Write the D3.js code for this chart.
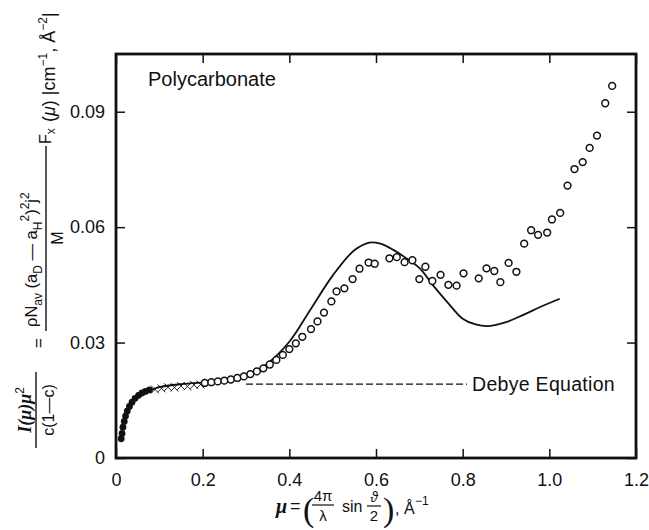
<!DOCTYPE html>
<html lang="en">
<head>
<meta charset="UTF-8">
<title>Polycarbonate</title>
<script src="https://d3js.org/d3.v7.min.js"></script>
<style>
  body, html { margin: 0; background: #fff; }
  svg text { font-family: 'Liberation Sans', Arial, sans-serif; fill: #111; }
</style>
</head>
<body>
<svg id="chart" width="649" height="530"></svg>
<script>
// filled dots at small mu
const filledMu  = [0.012, 0.014, 0.016, 0.019, 0.022, 0.026, 0.031, 0.037, 0.044, 0.052, 0.060, 0.068, 0.077];
const filledVal = [0.0050, 0.0064, 0.0080, 0.0095, 0.0109, 0.0122, 0.0134, 0.0145, 0.0155, 0.0163, 0.0169, 0.0173, 0.0177];

// crosses
const crossMu  = [0.09, 0.105, 0.12, 0.135, 0.15, 0.165, 0.18, 0.195];
const crossVal = [0.0178, 0.0181, 0.0184, 0.0183, 0.0187, 0.0186, 0.0190, 0.0191];

// open circles
const openMu = [0.205, 0.22, 0.235, 0.25, 0.265, 0.28, 0.295, 0.31, 0.325, 0.34, 0.355, 0.37, 0.385, 0.40, 0.415, 0.43, 0.45, 0.465, 0.48,
  0.497, 0.509, 0.527, 0.546, 0.562, 0.583, 0.597, 0.631, 0.648, 0.666, 0.684,
  0.700, 0.714, 0.730, 0.749, 0.767, 0.786, 0.802, 0.837, 0.855, 0.873,
  0.887, 0.906, 0.924, 0.942, 0.958, 0.974, 0.995, 1.006, 1.025, 1.042,
  1.058, 1.077, 1.093, 1.110, 1.129, 1.145];
const openVal = [0.0195, 0.0197, 0.0199, 0.0201, 0.0204, 0.0208, 0.0212, 0.0218, 0.0225, 0.0233, 0.0243, 0.0255, 0.0268, 0.0283, 0.0298, 0.0315, 0.0335, 0.0355, 0.0378,
  0.0407, 0.0433, 0.0441, 0.0465, 0.0492, 0.0508, 0.0505, 0.0519, 0.0522, 0.0509, 0.0514,
  0.0465, 0.0497, 0.0460, 0.0476, 0.0450, 0.0448, 0.0480, 0.0467, 0.0493, 0.0486,
  0.0457, 0.0507, 0.0484, 0.0557, 0.0592, 0.0580, 0.0586, 0.0620, 0.0637, 0.0708,
  0.0751, 0.0769, 0.0806, 0.0838, 0.0922, 0.0967];

// solid theory curve
const curveMu  = [0.075, 0.1, 0.15, 0.2, 0.25, 0.3, 0.35, 0.4, 0.45, 0.5, 0.55, 0.585, 0.61, 0.64, 0.67, 0.70, 0.735, 0.767, 0.80, 0.83, 0.86, 0.9, 0.94, 0.98, 1.024];
const curveVal = [0.0174, 0.0184, 0.0192, 0.0196, 0.0199, 0.0212, 0.0246, 0.0302, 0.0388, 0.0474, 0.0540, 0.0560, 0.0557, 0.0541, 0.0519, 0.0494, 0.0444, 0.0402, 0.0362, 0.0347, 0.0343, 0.0353, 0.0372, 0.0393, 0.0414];

// Debye equation (dashed)
const debyeMu  = [0.30, 0.81];
const debyeVal = [0.0192, 0.0192];

const xTicks = [0, 0.2, 0.4, 0.6, 0.8, 1.0, 1.2];
const yTicks = [0, 0.03, 0.06, 0.09];

const svg = d3.select("#chart");
const pLeft = 116, pRight = 636, pTop = 54, pBottom = 458;

const x = d3.scaleLinear().domain([0, 1.2]).range([pLeft, pRight]);
const y = d3.scaleLinear().domain([0, 0.105]).range([pBottom, pTop]);

// axes, ticks pointing inward
svg.append("g").attr("transform", `translate(0,${pBottom})`)
  .call(d3.axisBottom(x).tickValues(xTicks).tickSize(-9).tickPadding(15)
    .tickFormat(d => d === 0 ? "0" : d3.format(".1f")(d)));
svg.append("g").attr("transform", `translate(0,${pTop})`)
  .call(d3.axisTop(x).tickValues(xTicks).tickSize(-9).tickFormat(""));
svg.append("g").attr("transform", `translate(${pLeft},0)`)
  .call(d3.axisLeft(y).tickValues(yTicks).tickSize(-9).tickPadding(11)
    .tickFormat(d => d === 0 ? "0" : d3.format(".2f")(d)));
svg.append("g").attr("transform", `translate(${pRight},0)`)
  .call(d3.axisRight(y).tickValues(yTicks).tickSize(-9).tickFormat(""));

svg.selectAll(".domain").remove();
svg.selectAll(".tick line").attr("stroke", "#111").attr("stroke-width", 1.5);
svg.selectAll(".tick text").attr("font-size", 18).attr("fill", "#111")
  .style("font-family", "'Liberation Sans', Arial, sans-serif");

// frame
svg.append("rect")
  .attr("x", pLeft).attr("y", pTop)
  .attr("width", pRight - pLeft).attr("height", pBottom - pTop)
  .attr("fill", "none").attr("stroke", "#111").attr("stroke-width", 2.8);

// theory curve
const line = d3.line().x(d => x(d[0])).y(d => y(d[1])).curve(d3.curveCatmullRom.alpha(0.5));
svg.append("path")
  .datum(d3.zip(curveMu, curveVal))
  .attr("d", line)
  .attr("fill", "none").attr("stroke", "#111").attr("stroke-width", 1.8);

// Debye dashed line
svg.append("path")
  .datum(d3.zip(debyeMu, debyeVal))
  .attr("d", d3.line().x(d => x(d[0])).y(d => y(d[1])))
  .attr("fill", "none").attr("stroke", "#111").attr("stroke-width", 1.4)
  .attr("stroke-dasharray", "7,3");

svg.append("text")
  .attr("x", x(debyeMu[1]) + 5).attr("y", y(debyeVal[1]) + 7)
  .attr("font-size", 19.5).attr("letter-spacing", 0.3).text("Debye Equation");

// filled dots
svg.append("g").selectAll("circle")
  .data(d3.zip(filledMu, filledVal)).join("circle")
  .attr("cx", d => x(d[0])).attr("cy", d => y(d[1]))
  .attr("r", 3.4).attr("fill", "#111");

// crosses
const cross = d3.symbol().type(d3.symbolX).size(42);
svg.append("g").selectAll("path")
  .data(d3.zip(crossMu, crossVal)).join("path")
  .attr("transform", d => `translate(${x(d[0])},${y(d[1])})`)
  .attr("d", cross).attr("fill", "#111").attr("stroke", "#111").attr("stroke-width", 0.9);

// open circles
svg.append("g").selectAll("circle")
  .data(d3.zip(openMu, openVal)).join("circle")
  .attr("cx", d => x(d[0])).attr("cy", d => y(d[1]))
  .attr("r", 3.4).attr("fill", "#fff").attr("stroke", "#111").attr("stroke-width", 1.5);

svg.append("text").attr("x", 148).attr("y", 86).attr("font-size", 20).text("Polycarbonate");

// x axis label
const xl = svg.append("g");
xl.append("text").attr("x", 276).attr("y", 513).attr("font-size", 20)
  .style("font-family", "'Liberation Serif', serif").attr("font-weight", "bold").attr("font-style", "italic").text("μ");
xl.append("text").attr("x", 290).attr("y", 512).attr("font-size", 18).text("=");
xl.append("text").attr("x", 303).attr("y", 521).attr("font-size", 34)
  .style("font-family", "'Liberation Serif', serif").text("(");
xl.append("text").attr("x", 323).attr("y", 501).attr("font-size", 15).attr("text-anchor", "middle").text("4π");
xl.append("line").attr("x1", 312).attr("x2", 334).attr("y1", 505).attr("y2", 505).attr("stroke", "#111").attr("stroke-width", 1.2);
xl.append("text").attr("x", 323).attr("y", 521).attr("font-size", 15).attr("text-anchor", "middle").text("λ");
xl.append("text").attr("x", 342).attr("y", 512).attr("font-size", 16).text("sin");
xl.append("text").attr("x", 374).attr("y", 502).attr("font-size", 14).attr("text-anchor", "middle")
  .attr("font-style", "italic").text("ϑ");
xl.append("line").attr("x1", 367).attr("x2", 381).attr("y1", 506).attr("y2", 506).attr("stroke", "#111").attr("stroke-width", 1.2);
xl.append("text").attr("x", 374).attr("y", 521).attr("font-size", 15).attr("text-anchor", "middle").text("2");
xl.append("text").attr("x", 383).attr("y", 521).attr("font-size", 34)
  .style("font-family", "'Liberation Serif', serif").text(")");
xl.append("text").attr("x", 395).attr("y", 514).attr("font-size", 16).text(", Å");
xl.append("text").attr("x", 415).attr("y", 505).attr("font-size", 12).text("−1");

// y axis label, rotated: local x = 530 - screen y, local y = screen x
const yl = svg.append("g").attr("transform", "translate(0,530) rotate(-90)");
const t1 = yl.append("text").attr("x", 120).attr("y", 31).attr("text-anchor", "middle").attr("font-size", 18);
t1.append("tspan").style("font-family", "'Liberation Serif', serif").attr("font-weight", "bold").attr("font-style", "italic").text("I(μ)μ");
t1.append("tspan").attr("font-size", 12).attr("dy", -7).text("2");
yl.append("line").attr("x1", 82).attr("x2", 158).attr("y1", 36).attr("y2", 36).attr("stroke", "#111").attr("stroke-width", 1.4);
yl.append("text").attr("x", 120).attr("y", 54).attr("text-anchor", "middle").attr("font-size", 16).text("c(1—c)");
yl.append("text").attr("x", 187).attr("y", 44).attr("text-anchor", "middle").attr("font-size", 17).text("=");

const t2 = yl.append("text").attr("x", 203).attr("y", 37).attr("font-size", 16.5);
t2.append("tspan").text("ρN");
t2.append("tspan").attr("font-size", 12).attr("dy", 5).text("av");
t2.append("tspan").attr("dy", -5).text(" (a");
t2.append("tspan").attr("font-size", 12).attr("dy", 5).text("D");
t2.append("tspan").attr("dy", -5).text(" — a");
t2.append("tspan").attr("font-size", 12).attr("dy", 5).text("H");
t2.append("tspan").attr("font-size", 12).attr("dy", -13).text("2");
t2.append("tspan").attr("dy", 8).text(")");
t2.append("tspan").attr("font-size", 12).attr("dy", -8).text("2");
t2.append("tspan").attr("dy", 8).text("j");
t2.append("tspan").attr("font-size", 12).attr("dy", -8).text("2");
yl.append("line").attr("x1", 199).attr("x2", 384).attr("y1", 46).attr("y2", 46).attr("stroke", "#111").attr("stroke-width", 1.4);
yl.append("text").attr("x", 292).attr("y", 63).attr("text-anchor", "middle").attr("font-size", 16).text("M");

const t3 = yl.append("text").attr("x", 386).attr("y", 51).attr("font-size", 16);
t3.append("tspan").text("F");
t3.append("tspan").attr("font-size", 12).attr("dy", 4).text("x");

const t4 = yl.append("text").attr("x", 408).attr("y", 55).attr("font-size", 18);
t4.append("tspan").text("(");
t4.append("tspan").attr("font-style", "italic").text("μ");
t4.append("tspan").text(") |cm");
t4.append("tspan").attr("font-size", 12).attr("dy", -8).text("−1");
t4.append("tspan").attr("dy", 8).text(", Å");
t4.append("tspan").attr("font-size", 12).attr("dy", -8).text("−2");
t4.append("tspan").attr("dy", 8).text("|");
</script>
</body>
</html>
